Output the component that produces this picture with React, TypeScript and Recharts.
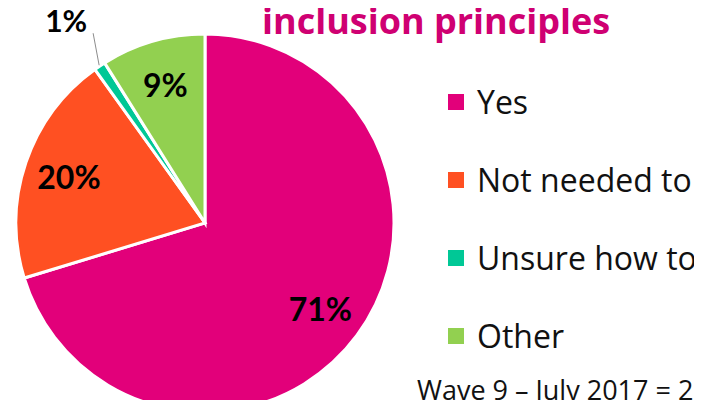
import React from "react";
import { PieChart, Pie, Cell, Legend, Customized } from "recharts";

const categories = ["Yes", "Not needed to", "Unsure how to", "Other"];
const values = [71, 20, 1, 9];
const labels = ["71%", "20%", "1%", "9%"];
const colors = ["#E2007A", "#FF5022", "#00C896", "#92D050"];
const titleText = "inclusion principles";
const footerText = "Wave 9 – July 2017 = 2";

const data = categories.map((name, i) => ({ name, value: values[i], label: labels[i], color: colors[i] }));

const FONT = "Lato, 'Open Sans', sans-serif";
const FONT2 = "'Open Sans', Lato, sans-serif";
const RAD = Math.PI / 180;

const renderLabel = (props: any) => {
  const { cx, cy, midAngle, outerRadius, index } = props;
  const cos = Math.cos(-midAngle * RAD);
  const sin = Math.sin(-midAngle * RAD);
  if (index === 2) {
    const sx = cx + (outerRadius + 1) * cos;
    const sy = cy + (outerRadius + 1) * sin;
    const ex = sx - 6;
    const ey = sy - 32;
    return (
      <g>
        <line x1={sx} y1={sy} x2={ex} y2={ey} stroke="#8c8c8c" strokeWidth={1} />
        <text x={ex - 6} y={ey - 1} textAnchor="end" fontFamily={FONT} fontWeight={700} fontSize={30} fill="#000">
          {data[index].label}
        </text>
      </g>
    );
  }
  const r = outerRadius * 0.76;
  const x = cx + r * cos;
  const y = cy + r * sin;
  return (
    <text x={x} y={y} textAnchor="middle" dominantBaseline="central" fontFamily={FONT} fontWeight={700} fontSize={32} fill="#000">
      {data[index].label}
    </text>
  );
};

const renderLegend = () => (
  <div style={{ fontFamily: FONT2 }}>
    {data.map((entry, i) => (
      <div key={i} style={{ display: "flex", alignItems: "center", height: 78, whiteSpace: "nowrap" }}>
        <span style={{ display: "inline-block", width: 16, height: 16, background: entry.color, marginRight: 13 }} />
        <span style={{ fontSize: 32, color: "#111", lineHeight: "40px" }}>{entry.name}</span>
      </div>
    ))}
  </div>
);

const Texts = () => (
  <g>
    <text x={262} y={34} fontFamily={FONT2} fontWeight={700} fontSize={36} fill="#CF0072">
      {titleText}
    </text>
    <text x={417} y={400} fontFamily={FONT2} fontWeight={400} fontSize={27} fill="#111">
      {footerText}
    </text>
  </g>
);

export default function App() {
  return (
    <div style={{ margin: -8, width: 702, height: 408, overflow: "hidden", background: "#fff" }}>
      <PieChart width={702} height={408} margin={{ top: 0, right: 0, bottom: 0, left: 0 }}>
        <Pie
          data={data}
          dataKey="value"
          nameKey="name"
          cx={205}
          cy={223}
          outerRadius={189}
          startAngle={90}
          endAngle={-270}
          stroke="#fff"
          strokeWidth={3}
          label={renderLabel}
          labelLine={false}
          isAnimationActive={false}
        >
          {data.map((d, i) => (
            <Cell key={d.name} fill={colors[i]} />
          ))}
        </Pie>
        <Legend
          layout="vertical"
          align="right"
          verticalAlign="top"
          content={renderLegend}
          wrapperStyle={{ left: 448, top: 63, width: 300, right: "auto" }}
        />
        <Customized component={Texts} />
      </PieChart>
    </div>
  );
}
